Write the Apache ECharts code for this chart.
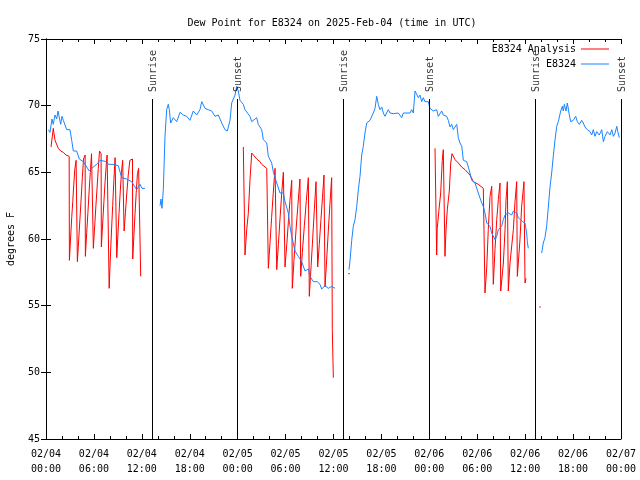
<!DOCTYPE html>
<html>
<head>
<meta charset="utf-8">
<script src="https://cdn.jsdelivr.net/npm/echarts@6/dist/echarts.min.js"></script>
<style>html,body{margin:0;padding:0;background:#fff}#chart{width:640px;height:480px}</style>
</head>
<body>
<div id="chart"></div>
<script>
// Hours since 2025-02-04 00:00 UTC
const xTickLabels = ['02/04\n00:00','02/04\n06:00','02/04\n12:00','02/04\n18:00','02/05\n00:00','02/05\n06:00','02/05\n12:00','02/05\n18:00','02/06\n00:00','02/06\n06:00','02/06\n12:00','02/06\n18:00','02/07\n00:00'];

const blueHours = [
  0.29,0.50,0.75,0.91,1.13,1.34,1.50,1.63,1.84,2.00,2.17,2.38,2.59,3.00,3.22,3.42,3.84,4.17,4.67,5.10,5.42,5.92,6.35,6.76,7.60,7.80,8.39,9.05,9.48,10.10,10.73,11.36,11.77,12.02,12.40,
  13.3,
  14.28,14.40,14.52,14.69,14.90,15.11,15.31,15.44,15.61,15.94,16.37,16.78,17.19,17.62,18.03,18.44,18.87,19.28,19.50,19.91,20.32,20.75,21.16,21.58,22.00,22.41,22.70,23.04,23.25,23.67,23.88,24.08,24.29,24.71,24.92,25.13,25.54,25.76,25.96,26.38,26.58,27.01,27.21,27.64,27.84,28.26,28.47,28.89,29.30,29.72,29.93,30.34,30.55,30.77,31.18,31.59,32.02,32.43,32.85,33.06,33.47,33.97,34.31,34.52,34.94,35.35,35.77,36.19,
  37.0,
  37.94,38.07,38.28,38.48,38.69,38.91,39.11,39.32,39.53,39.73,39.94,40.16,40.36,40.57,40.98,41.20,41.41,41.61,41.82,42.04,42.24,42.45,42.86,43.08,43.49,44.11,44.54,44.74,45.58,45.79,45.99,46.21,46.41,46.62,46.83,47.04,47.24,47.46,47.67,47.87,48.08,48.50,48.92,49.12,49.55,49.75,49.96,50.18,50.38,50.59,50.80,51.00,51.22,51.43,51.63,51.84,52.06,52.26,52.68,52.88,53.09,53.31,53.72,54.13,54.34,54.56,54.76,54.97,55.19,55.60,55.81,56.23,56.44,56.64,57.06,57.26,57.48,57.89,58.31,58.52,58.94,59.14,59.35,59.69,59.98,60.19,60.27,60.39,
  61.2,
  62.07,62.27,62.48,62.70,62.90,63.11,63.32,63.52,63.74,63.95,64.15,64.36,64.45,64.65,64.78,64.90,65.11,65.28,65.53,65.70,66.03,66.33,66.53,66.78,67.08,67.28,67.49,67.78,68.12,68.33,68.53,68.75,68.96,69.28,69.59,69.79,70.00,70.29,70.63,70.84,71.05,71.26,71.47,71.60,71.79
];
const blueValues = [
  68.2,68.0,69.0,68.6,69.3,69.0,69.6,69.5,68.6,69.2,68.9,68.8,68.2,68.2,67.4,66.6,66.6,66.0,65.8,65.4,65.1,65.4,65.6,65.9,65.8,65.6,65.6,65.5,64.6,64.5,64.3,63.7,64.1,63.8,63.8,
  null,
  62.5,63.0,62.3,63.7,67.7,69.7,70.1,69.7,68.7,69.1,68.8,69.5,69.3,69.2,68.9,69.6,69.3,69.7,70.3,69.8,69.7,69.6,69.2,69.3,68.7,68.2,68.1,68.9,70.2,70.8,71.45,71.1,70.4,70.1,69.7,69.8,69.2,68.8,68.9,69.1,68.6,68.2,67.45,67.2,66.2,65.7,65.0,64.2,63.45,63.45,62.8,61.95,60.95,60.2,59.1,58.7,58.3,57.6,57.75,57.2,56.8,56.8,56.6,56.25,56.5,56.3,56.45,56.3,
  null,
  57.7,58.4,59.9,60.95,61.45,62.45,63.7,64.7,66.3,66.95,67.95,68.7,68.6,68.9,69.45,69.8,70.7,70.1,69.7,69.9,69.45,69.2,69.7,69.45,69.4,69.45,69.1,69.45,69.45,69.7,69.45,71.1,71.0,70.6,70.8,70.3,70.6,70.3,70.45,70.3,69.8,69.6,69.7,69.2,69.6,69.3,69.45,69.2,68.9,68.4,68.6,68.2,68.4,68.6,67.6,67.2,66.95,65.9,65.8,65.4,64.95,64.4,64.2,63.45,63.3,62.7,62.45,61.95,61.2,60.95,60.45,59.95,60.2,60.7,60.95,61.45,61.8,61.95,61.8,62.1,61.95,61.6,61.45,61.3,61.2,60.45,59.8,59.3,
  null,
  58.95,59.7,60.1,61.0,62.4,63.9,64.95,66.2,67.45,68.45,68.8,68.7,69.6,69.95,69.6,70.1,69.6,70.2,69.3,68.8,68.9,69.2,68.8,68.6,68.9,68.7,68.4,68.2,68.05,67.8,68.2,67.7,68.05,67.8,68.2,67.3,67.7,68.05,67.8,68.2,67.7,67.95,68.45,68.05,67.6
];

const redHours = [
  0.63,0.88,0.91,1.13,1.54,1.84,2.17,2.50,2.90,
  2.93,3.10,3.22,3.35,3.47,3.60,3.77,3.90,
  3.93,4.10,4.25,4.40,4.55,4.70,4.90,
  4.93,5.10,5.25,5.40,5.55,5.70,5.90,
  5.93,6.10,6.25,6.40,6.55,6.70,6.90,
  6.93,7.10,7.25,7.40,7.55,7.65,7.88,
  7.91,8.05,8.20,8.35,8.50,8.65,8.83,
  8.86,9.00,9.15,9.30,9.45,9.60,9.75,
  9.78,9.95,10.10,10.30,10.50,10.83,
  10.86,11.00,11.15,11.30,11.45,11.60,11.83,
  11.86,
  18.0,
  24.71,24.90,24.92,25.13,25.33,25.54,25.76,26.38,26.80,27.01,27.64,27.82,
  27.84,28.05,28.25,28.45,28.68,28.87,
  28.89,29.10,29.30,29.50,29.72,29.91,
  29.93,30.15,30.35,30.55,30.77,30.82,
  30.84,31.05,31.30,31.55,31.80,31.87,
  31.89,32.10,32.35,32.60,32.85,32.95,
  32.97,33.20,33.40,33.60,33.81,34.00,
  34.02,34.22,34.42,34.62,34.81,34.92,
  34.94,35.15,35.35,35.55,35.77,35.83,
  35.85,35.98,
  42.0,
  48.71,48.90,48.92,48.99,49.21,49.42,49.62,49.75,49.94,
  49.96,50.09,50.25,50.50,50.68,50.84,51.22,51.63,52.05,52.47,53.09,53.51,54.13,54.76,54.95,
  54.97,55.19,55.38,55.60,55.81,55.99,
  56.01,56.23,56.44,56.64,56.85,56.92,
  56.94,57.27,57.48,57.60,57.77,57.87,
  57.89,58.10,58.52,58.73,58.94,59.00,
  59.02,59.35,59.56,59.85,59.96,
  59.98,60.10
];
const redValues = [
  66.9,66.9,68.3,67.4,66.8,66.6,66.5,66.3,66.2,
  58.4,60.3,61.6,62.8,64.0,65.2,65.9,65.9,
  58.3,60.0,61.5,63.0,64.6,66.0,66.3,
  58.7,60.5,62.0,63.6,65.0,66.4,66.5,
  59.3,61.0,62.5,63.9,65.3,66.6,66.4,
  59.4,61.2,62.8,64.3,65.6,66.3,66.2,
  56.3,58.5,60.6,62.5,64.4,66.1,66.1,
  58.6,60.3,62.0,63.6,65.0,65.9,65.85,
  60.6,62.0,63.3,64.8,65.9,66.0,
  58.5,60.2,61.9,63.5,64.9,65.3,65.3,
  57.2,
  null,
  66.9,66.9,58.8,60.7,61.9,64.4,66.45,66.0,65.8,65.6,65.3,65.2,
  57.8,59.7,61.6,63.4,65.3,65.2,
  57.7,59.6,61.5,63.3,65.0,64.9,
  57.9,59.6,61.3,62.9,64.4,64.4,
  56.3,58.4,60.6,62.6,64.5,64.5,
  57.2,59.0,61.0,62.9,64.6,64.6,
  55.7,58.0,60.1,62.2,64.3,64.3,
  57.9,59.6,61.4,63.1,64.8,64.8,
  56.4,58.5,60.6,62.6,64.6,64.6,
  53.2,49.6,
  null,
  66.8,66.8,58.8,60.8,62.2,63.45,65.9,66.7,66.7,
  58.7,60.7,62.2,63.6,65.7,66.4,65.95,65.7,65.4,65.2,64.8,64.3,64.1,63.8,63.8,
  55.95,57.9,60.7,63.2,63.95,63.95,
  56.6,59.3,61.45,62.95,64.2,64.2,
  56.1,58.2,60.7,62.9,64.3,64.3,
  56.1,58.2,60.7,62.8,64.3,64.3,
  57.2,59.95,62.45,64.3,64.3,
  56.7,57.05
];

// isolated analysis points
const redDotHours = [37.94, 61.86];
const redDotValues = [57.4, 54.9];

const sunHours = [13.34, 23.98, 37.25, 48.02, 61.30, 72.0];
const sunNames = ['Sunrise','Sunset','Sunrise','Sunset','Sunrise','Sunset'];
const sunTop = 70.5;

const FONT = '"DejaVu Sans Mono", "Liberation Mono", monospace';

const toData = (hs, vs) => hs.map((h, i) => [h, vs[i] === null ? '-' : vs[i]]);

const chart = echarts.init(document.getElementById('chart'), null, {renderer: 'canvas'});

const tickCommon = {
  axisLine: {show: true, lineStyle: {color: '#000', width: 1}},
  axisTick: {show: true, inside: true, length: 5, lineStyle: {color: '#000', width: 1}},
  splitLine: {show: false}
};

chart.setOption({
  animation: false,
  backgroundColor: '#fff',
  title: {
    text: 'Dew Point for E8324 on 2025-Feb-04 (time in UTC)',
    left: 327, top: 13, textAlign: 'center',
    textStyle: {fontFamily: FONT, fontSize: 10, fontWeight: 'normal', color: '#000'}
  },
  legend: {
    data: ['E8324 Analysis', 'E8324'],
    orient: 'vertical', right: 26, top: 38, align: 'right',
    icon: 'rect', itemWidth: 28, itemHeight: 1, itemGap: 3,
    textStyle: {fontFamily: FONT, fontSize: 10, color: '#000', lineHeight: 12}
  },
  grid: {left: 46, right: 19, top: 39, bottom: 41, containLabel: false, outerBoundsMode: 'none'},
  xAxis: [
    Object.assign({
      type: 'value', min: 0, max: 72, interval: 6, position: 'bottom',
      minorTick: {show: true, splitNumber: 3, length: 3, lineStyle: {color: '#000'}},
      axisLabel: {formatter: v => xTickLabels[Math.round(v / 6)], fontFamily: FONT, fontSize: 10, color: '#000', lineHeight: 15, margin: 8}
    }, tickCommon),
    Object.assign({
      type: 'value', min: 0, max: 72, interval: 6, position: 'top',
      minorTick: {show: true, splitNumber: 3, length: 3, lineStyle: {color: '#000'}},
      axisLabel: {show: false}
    }, tickCommon)
  ],
  yAxis: [
    Object.assign({
      type: 'value', min: 45, max: 75, interval: 5, position: 'left',
      name: 'degrees F', nameLocation: 'middle', nameGap: 30, nameRotate: 90,
      nameTextStyle: {fontFamily: FONT, fontSize: 10, color: '#000'},
      axisLabel: {fontFamily: FONT, fontSize: 10, color: '#000', margin: 6}
    }, tickCommon),
    Object.assign({
      type: 'value', min: 45, max: 75, interval: 5, position: 'right',
      axisLabel: {show: false}
    }, tickCommon)
  ],
  series: [
    {
      name: 'E8324 Analysis', type: 'line', data: toData(redHours, redValues),
      showSymbol: false, symbol: 'none', connectNulls: false,
      lineStyle: {color: '#ff0000', width: 1}, itemStyle: {color: '#ff0000'}, z: 2
    },
    {
      name: 'E8324', type: 'line', data: toData(blueHours, blueValues),
      showSymbol: false, symbol: 'none', connectNulls: false,
      lineStyle: {color: '#1a84ff', width: 1}, itemStyle: {color: '#1a84ff'}, z: 3,
      markLine: {
        silent: true, symbol: ['none', 'none'],
        lineStyle: {color: '#000', width: 1, type: 'solid'},
        label: {show: false},
        data: sunHours.map(h => [{coord: [h, sunTop]}, {coord: [h, 45]}])
      }
    },
    {
      name: 'dots', type: 'scatter', data: toData(redDotHours, redDotValues),
      symbol: 'rect', symbolSize: [2, 1], itemStyle: {color: '#ff0000'}, z: 2
    },
    {
      name: 'sunLabels', type: 'scatter', symbolSize: 0, z: 4,
      data: sunHours.map((h, i) => ({value: [h, sunTop], name: sunNames[i]})),
      label: {
        show: true, formatter: p => p.name, rotate: 90,
        position: [1, -7], align: 'left', verticalAlign: 'middle',
        fontFamily: FONT, fontSize: 10, color: '#000'
      }
    }
  ]
});
</script>
</body>
</html>
